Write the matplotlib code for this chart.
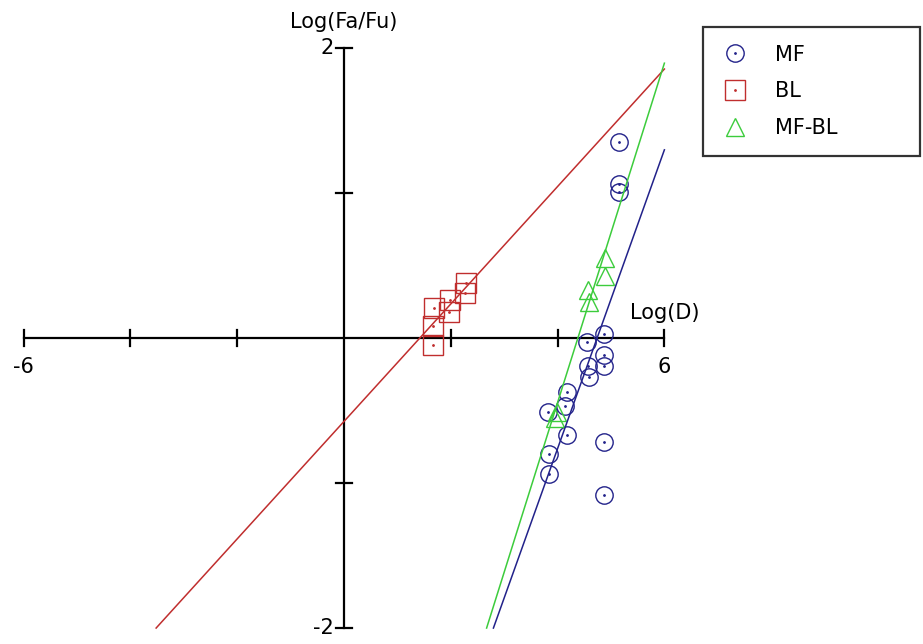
import numpy as np
import matplotlib
matplotlib.use("Agg")
import matplotlib.pyplot as plt
from matplotlib.legend_handler import HandlerTuple

# ── Data (log dose vs log(fa/fu)) ─────────────────────────────
mf_x = [5.15, 5.15, 5.15, 4.87, 4.55, 4.87, 4.57, 4.87, 4.59, 4.18,
        4.14, 3.82, 4.18, 3.84, 3.84, 4.87, 4.87]
mf_y = [1.35, 1.06, 1.01, 0.03, -0.03, -0.12, -0.19, -0.19, -0.27, -0.37,
        -0.47, -0.51, -0.67, -0.80, -0.94, -0.72, -1.08]

bl_x = [1.67, 1.67, 1.69, 1.97, 1.99, 2.27, 2.28]
bl_y = [-0.05, 0.08, 0.21, 0.18, 0.26, 0.31, 0.38]

mfbl_x = [4.89, 4.89, 4.57, 4.59, 3.99, 3.95]
mfbl_y = [0.55, 0.43, 0.33, 0.25, -0.51, -0.55]

# median-effect fits: slope m and x-intercept log(Dm)
series_names = ["MF", "BL", "MF-BL"]
slopes = [1.03, 0.405, 1.17]
log_dm = [4.74, 1.42, 4.38]

XMIN, XMAX = -6, 6
YMIN, YMAX = -2, 2

# ── Figure ────────────────────────────────────────────────────
fig = plt.figure(figsize=(9.23, 6.44), dpi=100)
ax = fig.add_axes([0, 0, 1, 1])
ax.set_xlim(-6.442, 10.843)
ax.set_ylim(-2.110, 2.331)
ax.axis("off")

blue = "#22228a"
red = "#c02e2e"
green = "#3ccc3c"
colors = [blue, red, green]

# axes crossing at origin
ax.plot([XMIN, XMAX], [0, 0], color="black", lw=1.6, zorder=1)
ax.plot([0, 0], [YMIN, YMAX], color="black", lw=1.6, zorder=1)
tick_dx = 8 / 53.4
tick_dy = 8 / 145
for t in [-6, -4, -2, 2, 4, 6]:
    ax.plot([t, t], [-tick_dy, tick_dy], color="black", lw=1.6, zorder=1)
for t in [-2, -1, 1, 2]:
    ax.plot([-tick_dx, tick_dx], [t, t], color="black", lw=1.6, zorder=1)

fs = 15
ax.text(-6, -0.2, "-6", ha="center", va="center", fontsize=fs)
ax.text(6, -0.2, "6", ha="center", va="center", fontsize=fs)
ax.text(-0.2, 2, "2", ha="right", va="center", fontsize=fs)
ax.text(-0.2, -2, "-2", ha="right", va="center", fontsize=fs)
ax.text(6, 0.17, "Log(D)", ha="center", va="center", fontsize=fs)
ax.text(0, 2.18, "Log(Fa/Fu)", ha="center", va="center", fontsize=fs)

# fitted lines, clipped to the plot box
for m, x0, c in zip(slopes, log_dm, colors):
    lo = max(XMIN, x0 + YMIN / m)
    hi = min(XMAX, x0 + YMAX / m)
    xs = np.array([lo, hi])
    ax.plot(xs, m * (xs - x0), color=c, lw=1.1, zorder=3)

# points
h_mf = ax.plot(mf_x, mf_y, "o", ms=12.5, mfc="none", mec=blue, mew=1.0, zorder=2)[0]
d_mf = ax.plot(mf_x, mf_y, ".", ms=2, color=blue, zorder=2)[0]
h_bl = ax.plot(bl_x, bl_y, "s", ms=14, mfc="none", mec=red, mew=1.0, zorder=2)[0]
d_bl = ax.plot(bl_x, bl_y, ".", ms=2, color=red, zorder=2)[0]
h_mfbl = ax.plot(mfbl_x, mfbl_y, "^", ms=13, mfc="none", mec=green, mew=1.0, zorder=2)[0]

leg = ax.legend([(h_mf, d_mf), (h_bl, d_bl), h_mfbl], series_names,
                handler_map={tuple: HandlerTuple(ndivide=1, pad=0)},
                loc="upper left", mode="expand",
                bbox_to_anchor=(703 / 923, 1 - 27 / 644, 217 / 923, 0.0),
                bbox_transform=fig.transFigure,
                fontsize=fs, frameon=True, fancybox=False,
                labelspacing=0.8, borderpad=0.85, handlelength=1.4,
                handletextpad=1.2, borderaxespad=0)
leg.get_frame().set_edgecolor("black")
leg.get_frame().set_linewidth(1.6)

fig.savefig("out.png", dpi=100)
